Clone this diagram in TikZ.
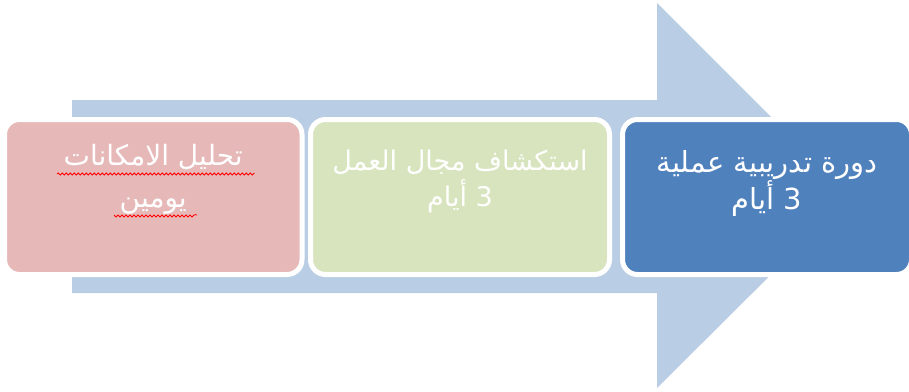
\documentclass[tikz,border=0pt]{standalone}
\usepackage{fontspec}
\newfontfamily\arabicfont[Script=Arabic]{DejaVu Sans}
\usetikzlibrary{positioning,decorations.pathmorphing}
\TeXXeTstate=1
\definecolor{arrowblue}{HTML}{B9CDE5}
\definecolor{pinkbox}{HTML}{E6B9B8}
\definecolor{greenbox}{HTML}{D7E4BD}
\definecolor{bluebox}{HTML}{4F81BD}

\begin{document}
\begin{tikzpicture}[x=1pt,y=-1pt]
    \tikzstyle{stage}=[rectangle,rounded corners=15pt,draw=white,line width=5pt,minimum height=155pt]
    \tikzstyle{stagetext}=[text=white,inner sep=0pt,align=center,font=\arabicfont\fontsize{29}{36}\selectfont]
    \useasboundingbox (0,0) rectangle (909,391);

    % big arrow behind the stages
    \fill[arrowblue] (72,100) -- (657,100) -- (657,3) -- (850,196)
                     -- (657,388) -- (657,293) -- (72,293) -- cycle;

    \node[stage,fill=pinkbox,minimum width=297.5pt] (analysis) at (153.25,197) {};
    \node[stage,fill=greenbox,minimum width=299pt] (explore) at (460,197) {};
    \node[stage,fill=bluebox,minimum width=289pt] (course) at (767,197) {};

    \node[stagetext,below=27pt of analysis.north,font=\arabicfont\fontsize{28}{42}\selectfont] (analysistext)
        {\beginR تحليل الامكانات\endR\\ \beginR يومين\endR};
    \node[stagetext,below=33pt of explore.north,font=\arabicfont\fontsize{27}{36}\selectfont] (exploretext)
        {\beginR استكشاف مجال العمل\endR\\ \beginR 3 أيام\endR};
    \node[stagetext,below=33pt of course.north] (coursetext)
        {\beginR دورة تدريبية عملية\endR\\ \beginR 3 أيام\endR};

    \draw[red,line width=0.8pt,decorate,decoration={snake,amplitude=1pt,segment length=4pt}]
        (57,174) -- (253,174) (114,215) -- (197,215);

\end{tikzpicture}
\end{document}
